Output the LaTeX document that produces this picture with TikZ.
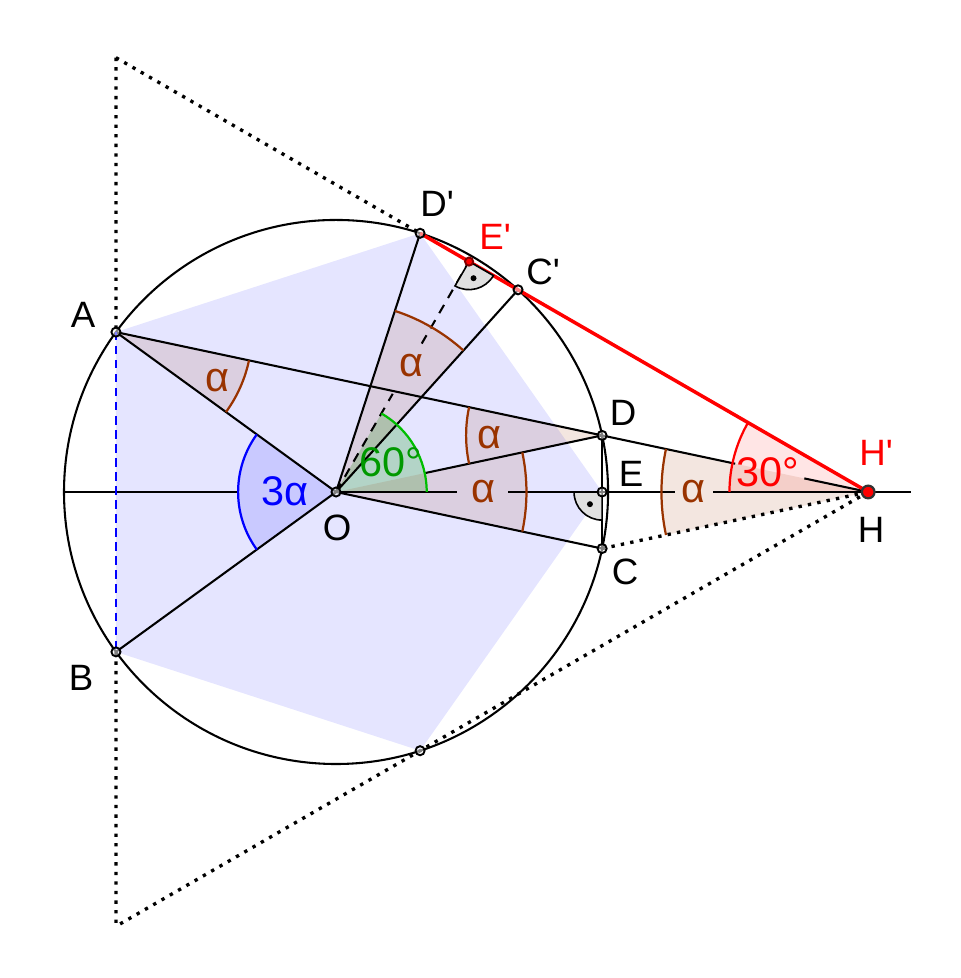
\documentclass[tikz,border=0pt]{standalone}
\usepackage{fontspec}
\newfontfamily\lblfont{Liberation Sans}
\usetikzlibrary{calc}

\definecolor{alphabrown}{RGB}{153,51,0}
\definecolor{anggreen}{RGB}{0,153,0}
\definecolor{arcgreen}{RGB}{0,190,0}

\tikzset{
	ptlabel/.style={font=\lblfont\fontsize{11.5}{13}\selectfont},
	anglabel/.style={font=\lblfont\fontsize{13}{15}\selectfont},
	dotline/.style={line width=1.05pt, dash pattern=on 1.05pt off 1.95pt},
	alphafill/.style={fill=alphabrown, fill opacity=0.12},
	alphaarc/.style={alphabrown, line width=0.7pt},
	rightmark/.style={fill=black!12, draw=black, line width=0.5pt},
}

\begin{document}
\begin{tikzpicture}[line width=0.65pt]
		\useasboundingbox (-3.706,-5.360) rectangle (6.882,5.426);

		% points of the figure
		\coordinate (O) at (0,0);
		\coordinate (A) at (144:3);
		\coordinate (B) at (216:3);
		\coordinate (C) at (-12:3);
		\coordinate (D) at (12:3);
		\coordinate (E) at ({3*cos(12)},0);
		\coordinate (F) at (-72:3);
		\coordinate (Dp) at (72:3);
		\coordinate (Cp) at (48:3);
		\coordinate (Ep) at (60:{3*cos(12)});
		\coordinate (H) at ({6*cos(12)},0);
		\coordinate (T1) at (-2.4271,4.7898);
		\coordinate (T2) at (-2.4271,-4.7898);

		% pentagon
		\fill[blue, fill opacity=0.1] (A) -- (Dp) -- (E) -- (F) -- (B) -- cycle;

		% angle sectors
		\fill[alphafill] (A) -- ++(-36:1.5) arc[start angle=-36, end angle=-12, radius=1.5] -- cycle;
		\fill[blue, fill opacity=0.12] (O) -- (144:1.08) arc[start angle=144, end angle=216, radius=1.08] -- cycle;
		\fill[anggreen, fill opacity=0.22] (O) -- (0:1) arc[start angle=0, end angle=60, radius=1] -- cycle;
		\fill[alphafill] (O) -- (48:2.1) arc[start angle=48, end angle=72, radius=2.1] -- cycle;
		\fill[alphafill] (O) -- (-12:2.1) arc[start angle=-12, end angle=12, radius=2.1] -- cycle;
		\fill[alphafill] (D) -- ++(168:1.5) arc[start angle=168, end angle=192, radius=1.5] -- cycle;
		\fill[alphafill] (H) -- ++(168:2.28) arc[start angle=168, end angle=192, radius=2.28] -- cycle;
		\fill[red, fill opacity=0.1] (H) -- ++(150:1.53) arc[start angle=150, end angle=180, radius=1.53] -- cycle;

		% circle and segments
		\draw (O) circle (3);
		\draw (-3,0) -- (-1.08,0);
		\draw (O) -- (1.33,0);
		\draw (1.90,0) -- (3.74,0);
		\draw (4.16,0) -- (6.34,0);
		\draw (A) -- (O) -- (B);
		\draw (Dp) -- (O) -- (Cp);
		\draw (O) -- (C);
		\draw (12:1) -- (D);
		\draw (A) -- (D);
		\draw (D) -- ($(H)+(168:1.5)$);
		\draw ($(H)+(168:0.72)$) -- (H);
		\draw (C) -- (D);
		\draw[dash pattern=on 3pt off 2.5pt] (O) -- (60:1.25);
		\draw[dash pattern=on 3pt off 2.5pt] (60:1.89) -- (Ep);

		\draw[dotline] (T1) -- (A);
		\draw[dotline] (B) -- (T2);
		\draw[dotline] (T1) -- (Dp);
		\draw[dotline] (C) -- (H);
		\draw[dotline] (H) -- (T2);
		\draw[blue, line width=0.9pt, dash pattern=on 2.6pt off 1.8pt] (A) -- (B);
		\draw[red, line width=1.1pt] (Dp) -- (H);

		% angle arcs
		\draw[alphaarc] ($(A)+(-36:1.5)$) arc[start angle=-36, end angle=-12, radius=1.5];
		\draw[blue, line width=0.7pt] (144:1.08) arc[start angle=144, end angle=216, radius=1.08];
		\draw[arcgreen, line width=0.7pt] (0:1) arc[start angle=0, end angle=60, radius=1];
		\draw[alphaarc] (48:2.1) arc[start angle=48, end angle=72, radius=2.1];
		\draw[alphaarc] (-12:2.1) arc[start angle=-12, end angle=12, radius=2.1];
		\draw[alphaarc] ($(D)+(168:1.5)$) arc[start angle=168, end angle=192, radius=1.5];
		\draw[alphaarc] ($(H)+(168:2.28)$) arc[start angle=168, end angle=192, radius=2.28];
		\draw[red, line width=0.7pt] ($(H)+(150:1.53)$) arc[start angle=150, end angle=180, radius=1.53];

		% right angles
		\draw[rightmark] (E) -- ++(180:0.31) arc[start angle=180, end angle=270, radius=0.31] -- cycle;
		\fill ($(E)+(225:0.19)$) circle (0.033);
		\draw[rightmark] (Ep) -- ++(240:0.31) arc[start angle=240, end angle=330, radius=0.31] -- cycle;
		\fill ($(Ep)+(285:0.19)$) circle (0.033);

		% points
		\foreach \p in {A,B,C,D,E,O,Dp,Cp,F}
			\draw[line width=0.6pt, fill=white, fill opacity=0.5] (\p) circle (0.05);
		\draw[fill=red, draw=red!50!black, line width=0.6pt] (Ep) circle (0.045);
		\draw[fill=red, draw=black!80, line width=0.7pt] (H) circle (0.07);

		% labels
		\node[ptlabel] (lA) at (-2.790,1.952) {A};
		\node[ptlabel] (lB) at (-2.812,-2.051) {B};
		\node[ptlabel] (lO) at (0.011,-0.397) {O};
		\node[ptlabel] (lC) at (3.187,-0.882) {C};
		\node[ptlabel] (lD) at (3.165,0.871) {D};
		\node[ptlabel] (lE) at (3.254,0.199) {E};
		\node[ptlabel] (lDp) at (1.114,3.176) {D'};
		\node[ptlabel, red] (lEp) at (1.754,2.812) {E'};
		\node[ptlabel] (lCp) at (2.283,2.426) {C'};
		\node[ptlabel, red] (lHp) at (5.956,0.430) {H'};
		\node[ptlabel] (lH) at (5.901,-0.419) {H};

		\node[anglabel, alphabrown] (aA) at (-1.312,1.224) {α};
		\node[anglabel, blue] (aO) at (-0.562,0.011) {3α};
		\node[anglabel, anggreen] (aG) at (0.607,0.331) {60°};
		\node[anglabel, alphabrown] (aT) at (0.827,1.390) {α};
		\node[anglabel, alphabrown] (aD) at (1.687,0.596) {α};
		\node[anglabel, alphabrown] (aE) at (1.621,0) {α};
		\node[anglabel, alphabrown] (aH) at (3.937,0) {α};
		\node[anglabel, red] (aR) at (4.765,0.221) {30°};
	\end{tikzpicture}
\end{document}
